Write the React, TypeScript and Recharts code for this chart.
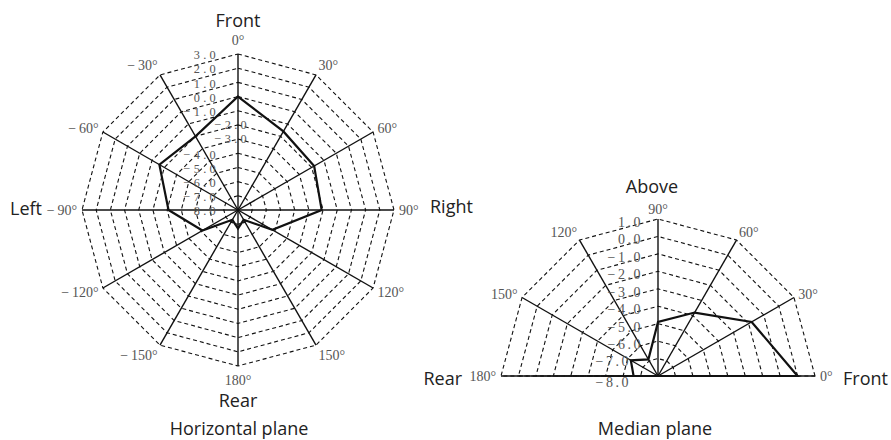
import React from 'react';
import { RadarChart, Radar, PolarGrid, PolarAngleAxis, PolarRadiusAxis } from 'recharts';

// Horizontal plane (0° = front, clockwise)
const hAngles = [0, 30, 60, 90, 120, 150, 180, 210, 240, 270, 300, 330];
const hAngleLabels = ['0°', '30°', '60°', '90°', '120°', '150°', '180°', '\u2212\u2009150°', '\u2212\u2009120°', '\u2212\u200990°', '\u2212\u200960°', '\u2212\u200930°'];
const hLevels = [0.0, -1.6, -1.8, -2.1, -5.2, -7.2, -6.7, -7.2, -5.1, -3.1, -1.6, -2.0];
const hRadiusTicks = [-8, -7, -6, -5, -4, -3, -2, -1, 0, 1, 2, 3];

// Median plane (0° = front, 90° = above, 180° = rear)
const mAngles = [0, 30, 60, 90, 120, 150, 180];
const mAngleLabels = ['0°', '30°', '60°', '90°', '120°', '150°', '180°'];
const mLevels = [0.0, -1.8, -3.8, -4.9, -6.9, -6.2, -6.6];
const mRadiusTicks = [-8, -7, -6, -5, -4, -3, -2, -1, 0, 1];

const hData = hAngles.map((angle, i) => ({ angle, level: hLevels[i] }));
const mData = mAngles.map((angle, i) => ({ angle, level: mLevels[i] }));

const SERIF = '"Liberation Serif", "DejaVu Serif", serif';
const SANS = '"Open Sans", "Noto Sans", sans-serif';

const AngleTick = (props: any) => {
  const { x, y, payload, labels, angles, lift } = props;
  const idx = angles.indexOf(payload.value);
  if (idx < 0) return null;
  const a = (payload.coordinate * Math.PI) / 180;
  const cos = Math.cos(a);
  const sin = Math.sin(a);
  const anchor = cos > 0.1 ? 'start' : cos < -0.1 ? 'end' : 'middle';
  return (
    <text x={x} y={y - lift * sin * sin * sin} dy="0.35em" textAnchor={anchor}
      fontFamily={SERIF} fontSize={14} fill="#555">
      {labels[idx]}
    </text>
  );
};

const fmtLevel = (v: number) => (v < 0 ? '\u2212' : '') + Math.abs(v).toFixed(1);

const RadiusTick = (props: any) => {
  const { x, y, payload, shift, size, spacing } = props;
  const [dx, dy] = shift(payload.value);
  return (
    <text x={x + dx} y={y + dy} dy="0.35em" textAnchor="end"
      fontFamily={SERIF} fontSize={size} letterSpacing={spacing} fill="#555">
      {fmtLevel(payload.value)}
    </text>
  );
};

const hShift = (v: number) => (v === -2 || v === -3 ? [12, 0] : [-19, 1]);
const mShift = (v: number) => (v <= -7 ? [-27, v === -8 ? 6 : 3] : [-15, 3]);

const Label = ({ x, y, text, align = 'center' }: { x: number; y: number; text: string; align?: 'center' | 'left' | 'right' }) => {
  const tx = align === 'center' ? '-50%' : align === 'right' ? '-100%' : '0';
  return (
    <div style={{
      position: 'absolute', left: x, top: y, transform: `translate(${tx}, -50%)`,
      fontFamily: SANS, fontSize: 18, lineHeight: 1, color: '#222', whiteSpace: 'nowrap',
    }}>{text}</div>
  );
};

export default function App() {
  return (
    <div style={{ position: 'absolute', left: 0, top: 0, width: 891, height: 440, background: '#fff', overflow: 'hidden' }}>
      <div style={{ position: 'absolute', left: 0, top: 0 }}>
        <RadarChart width={440} height={440} data={hData} cx={238} cy={210} outerRadius={156}
          startAngle={90} endAngle={-270} margin={{ top: 0, right: 0, bottom: 0, left: 0 }}>
          <PolarGrid gridType="polygon" radialLines={false} stroke="#111" strokeWidth={1.1} strokeDasharray="4 3" />
          <PolarGrid gridType="polygon" polarRadius={[]} stroke="#111" strokeWidth={1.4} />
          <PolarAngleAxis dataKey="angle" type="number" domain={[0, 360]} ticks={hAngles} tickCount={13}
            axisLine={false} tickLine={false} tickSize={5}
            tick={(p: any) => <AngleTick {...p} labels={hAngleLabels} angles={hAngles} lift={9} />} />
          <PolarRadiusAxis angle={90} type="number" domain={[-8, 3]} ticks={hRadiusTicks} tickCount={12}
            axisLine={false} tickLine={false}
            tick={(p: any) => <RadiusTick {...p} shift={hShift} size={12.3} spacing={3.3} />} />
          <Radar dataKey="level" stroke="#111" strokeWidth={2.2} fill="none" fillOpacity={0}
            dot={false} isAnimationActive={false} />
        </RadarChart>
      </div>
      <div style={{ position: 'absolute', left: 440, top: 0 }}>
        <RadarChart width={451} height={440} data={mData} cx={218} cy={376} outerRadius={157}
          startAngle={0} endAngle={180} margin={{ top: 0, right: 0, bottom: 0, left: 0 }}>
          <PolarGrid gridType="polygon" radialLines={false} stroke="#111" strokeWidth={1.1} strokeDasharray="4 3" />
          <PolarGrid gridType="polygon" polarRadius={[]} stroke="#111" strokeWidth={1.4} />
          <PolarAngleAxis dataKey="angle" type="number" domain={[0, 180]} ticks={mAngles} tickCount={7}
            axisLine={false} tickLine={false} tickSize={5}
            tick={(p: any) => <AngleTick {...p} labels={mAngleLabels} angles={mAngles} lift={5} />} />
          <PolarRadiusAxis angle={90} type="number" domain={[-8, 1]} ticks={mRadiusTicks} tickCount={10}
            axisLine={false} tickLine={false}
            tick={(p: any) => <RadiusTick {...p} shift={mShift} size={14} spacing={2.5} />} />
          <Radar dataKey="level" stroke="#111" strokeWidth={2.2} fill="none" fillOpacity={0}
            dot={false} isAnimationActive={false} />
        </RadarChart>
      </div>

      <Label x={238} y={20} text="Front" />
      <Label x={238} y={400} text="Rear" />
      <Label x={42} y={208} text="Left" align="right" />
      <Label x={430} y={206} text="Right" align="left" />
      <Label x={239} y={428} text="Horizontal plane" />

      <Label x={652} y={186} text="Above" />
      <Label x={462} y={378} text="Rear" align="right" />
      <Label x={843} y={378} text="Front" align="left" />
      <Label x={655} y={428} text="Median plane" />
    </div>
  );
}
